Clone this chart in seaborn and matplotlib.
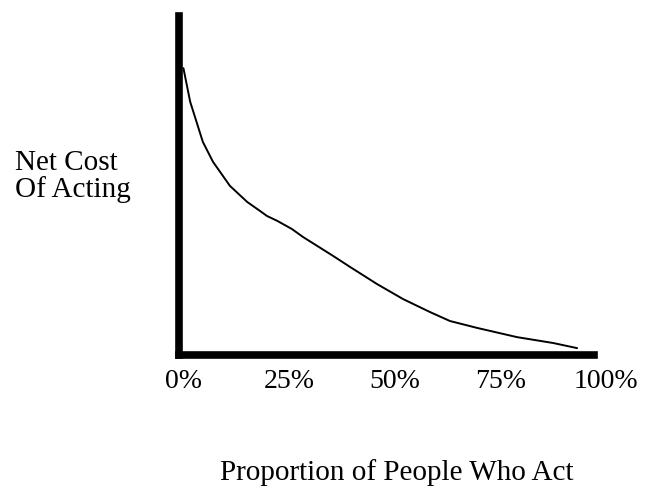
import numpy as np
import pandas as pd
import seaborn as sns
import matplotlib.pyplot as plt

# share of people who act (%) and the net cost of acting (arbitrary units)
proporcion = [0, 1.6, 4.6, 7.0, 11.0, 15.1, 18.1, 19.8, 22.2, 25.7, 28.3,
              35.4, 39.4, 45.8, 52.0, 58.4, 63.1, 69.5, 79.0, 87.5, 93.2]
costo = [83.6, 73.8, 62.1, 56.3, 49.3, 44.6, 42.0, 40.5, 39.1, 36.7, 34.4,
         28.9, 25.7, 20.7, 16.3, 12.5, 9.9, 7.9, 5.2, 3.5, 2.0]

ticks = [0, 25, 50, 75, 100]
tick_labels = ['0%', '25%', '50%', '75%', '100%']

db = pd.DataFrame({'Proporcion': proporcion, 'Costo': costo})

sns.set_theme(style='white')
plt.rcParams['font.family'] = ['Liberation Serif', 'DejaVu Serif']

fig = plt.figure(figsize=(6.51, 4.89), dpi=100)
ax = fig.add_axes([0.275, 0.272, 0.6621, 0.6933])

plot = sns.lineplot(data=db, x='Proporcion', y='Costo', color='black',
                    linewidth=1.4, ax=ax)

ax.set_xticks(ticks)
ax.set_xticklabels(tick_labels, fontsize=20)
ax.set_yticks([])
ax.tick_params(axis='x', length=0, pad=9.5, colors='black')
ax.set_xlim(-1.04, 101)
ax.set_ylim(0, 98.8)

# solo los ejes izquierdo e inferior, gruesos; el de abajo no llega al 100%
for lado in ['top', 'right']:
    ax.spines[lado].set_visible(False)
for lado in ['left', 'bottom']:
    ax.spines[lado].set_color('black')
    ax.spines[lado].set_linewidth(5.5)
    ax.spines[lado].set_capstyle('projecting')
ax.spines['bottom'].set_bounds(-1.04, 97.2)

ax.set_xlabel('Proportion of People Who Act', fontsize=21, color='black',
              va='baseline')
ax.xaxis.set_label_coords(0.506, -0.366)
# va='baseline' toma la ultima linea del texto
ax.set_ylabel('Net Cost\nOf Acting', fontsize=21, color='black',
              rotation=0, ha='left', va='baseline', multialignment='left',
              linespacing=0.98)
ax.yaxis.set_label_coords(-0.3805, 0.469)

fig.savefig('out.png', dpi=100)
